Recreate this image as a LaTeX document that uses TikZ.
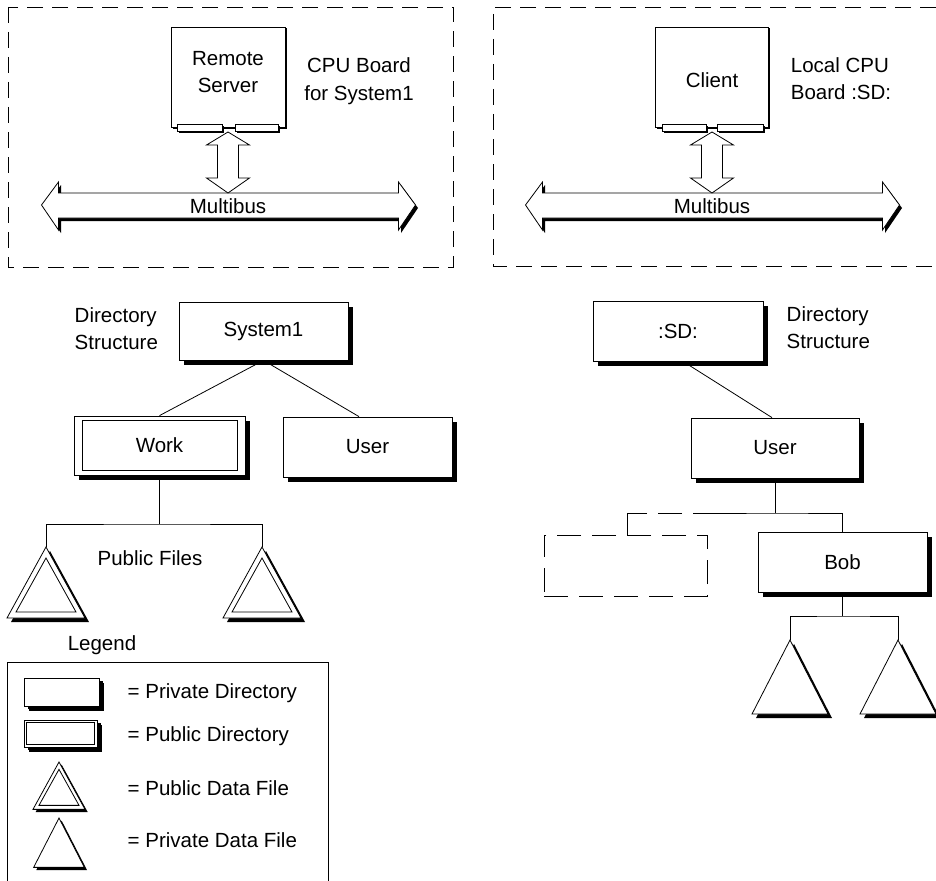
\documentclass[tikz,border=0pt]{standalone}
\usepackage{fontspec}
\setmainfont{Liberation Sans}
\usetikzlibrary{shadows,calc}
\begin{document}
\begin{tikzpicture}[x=1pt,y=-1pt,line width=0.8pt,
  every node/.style={font=\fontsize{20.5}{27.5}\selectfont},
  shad/.style={drop shadow={shadow xshift=4.5pt,shadow yshift=-4.5pt,opacity=1,fill=black}},
  dirbox/.style={draw,fill=white,inner sep=0pt,shad},
  panel/.style={dash pattern=on 16pt off 9pt},
  board/.style={draw,fill=white,inner sep=0pt,minimum height=100pt,
     drop shadow={shadow xshift=2pt,shadow yshift=-1.5pt,opacity=1,fill=black}},
  pad/.style={draw,fill=white,inner sep=0pt,minimum height=7pt,
     drop shadow={shadow xshift=1.5pt,shadow yshift=-1.5pt,opacity=1,fill=black}},
  bus/.pic={
    \path[draw,fill=white,drop shadow={shadow xshift=2.5pt,shadow yshift=-3pt,opacity=1,fill=black}]
      (-187,0) -- (-170,-23) -- (-170,-12) -- (170,-12) -- (170,-23) -- (187,0)
      -- (170,25) -- (170,13) -- (-170,13) -- (-170,25) -- cycle;
  },
  vbus/.pic={
    \draw[fill=white] (0,-30.5) -- (21.5,-17.5) -- (10.5,-17.5) -- (10.5,15.5) -- (21.5,15.5)
      -- (0,30.5) -- (-21.5,15.5) -- (-10.5,15.5) -- (-10.5,-17.5) -- (-21.5,-17.5) -- cycle;
  },
  pubfile/.pic={
    \fill[black] (4,4) -- (-35,75) -- (43,75) -- cycle;
    \draw[fill=white] (0,0) -- (-39,71) -- (39,71) -- cycle;
    \draw (0,11) -- (-30,65) -- (30,65) -- cycle;
  },
  privfile/.pic={
    \fill[black] (4,4) -- (-34,78) -- (42,78) -- cycle;
    \draw[fill=white] (0,0) -- (-38,74) -- (38,74) -- cycle;
  }
]
\useasboundingbox (0,0) rectangle (936,880);
\fill[white] (0,0) rectangle (936,880);
\clip (0,0) rectangle (936,880);

% ---------- top panels ----------
\draw[panel] (8,7) rectangle (453,267);
\draw[panel] (936,7) -- (493,7) -- (493,266) -- (936,266);

% left board
\pic at (228.5,205) {bus};
\node (mb1) at (228,206) {Multibus};
\node[board,minimum width=114pt] (rs) at (228,77) {};
\node[align=center] (rstxt) at (228,72) {Remote\\Server};
\node[pad,minimum width=45pt] (rsp1) at (199.5,127.5) {};
\node[pad,minimum width=43pt] (rsp2) at (256.5,127.5) {};
\draw[line width=2pt] (rsp1.east) -- (rsp2.west);
\pic at (228,162.5) {vbus};
\node[align=center] (cpu1) at (359,81) {CPU Board\\for System1};

% right board
\pic at (712.5,205) {bus};
\node (mb2) at (712,206) {Multibus};
\node[board,minimum width=113pt] (cl) at (711.5,77) {};
\node (cltxt) at (712,80) {Client};
\node[pad,minimum width=44pt] (clp1) at (684,127.5) {};
\node[pad,minimum width=46pt] (clp2) at (740,127.5) {};
\draw[line width=2pt] (clp1.east) -- (clp2.west);
\pic at (712,162.5) {vbus};
\node[align=left] (cpu2) at (841,78.5) {Local CPU\\Board :SD:};

% ---------- lower left tree ----------
\node[anchor=west,align=left] (ds1) at (71,328.5) {Directory\\Structure};
\node[dirbox,minimum width=169pt,minimum height=58pt] (sys) at (263.5,331) {System1};
\node[dirbox,minimum width=171pt,minimum height=59pt] (work) at (159.5,445.5) {Work};
\draw ([xshift=9pt,yshift=-5pt]work.north west) rectangle ([xshift=-8pt,yshift=5pt]work.south east);
\node[dirbox,minimum width=169pt,minimum height=60pt] (usr1) at (367.5,447) {User};
\draw (sys.south) -- (work.north);
\draw (sys.south) -- ([xshift=-8.5pt]usr1.north);
\coordinate (wj) at (159.5,524);
\coordinate (pf1) at (46,547);
\coordinate (pf2) at (262,547);
\draw (work.south) -- (wj);
\draw (pf1) |- (wj) -| (pf2);
\pic at (pf1) {pubfile};
\pic at (pf2) {pubfile};
\node (pubf) at (150,558) {Public Files};

% ---------- legend ----------
\node (leg) at (102,645) {Legend};
\draw (7,890) -- (7,662) -- (328,662) -- (328,890);
\node[dirbox,minimum width=75pt,minimum height=28pt,
  drop shadow={shadow xshift=4pt,shadow yshift=-3pt,opacity=1,fill=black}] (lpriv) at (61.5,692) {};
\node[anchor=west] (tpriv) at (124,693) {= Private Directory};
\node[dirbox,minimum width=73pt,minimum height=27pt,
  drop shadow={shadow xshift=4pt,shadow yshift=-3pt,opacity=1,fill=black}] (lpub) at (60.5,733.5) {};
\draw ([xshift=3pt,yshift=-3pt]lpub.north west) rectangle ([xshift=-3pt,yshift=3pt]lpub.south east);
\node[anchor=west] (tpub) at (124,736) {= Public Directory};
\pic[scale=0.667] at (59,762) {pubfile};
\node[anchor=west] (tpubf) at (124,788) {= Public Data File};
\pic[scale=0.667] at (59,818) {privfile};
\node[anchor=west] (tprivf) at (124,840) {= Private Data File};

% ---------- lower right tree ----------
\node[dirbox,minimum width=170pt,minimum height=60pt] (sd) at (678,331) {:SD:};
\node[anchor=west,align=left] (ds2) at (783,327.5) {Directory\\Structure};
\node[dirbox,minimum width=168pt,minimum height=60pt] (usr2) at (775,448) {User};
\draw ([xshift=5pt]sd.south) -- ([xshift=-3pt]usr2.north);
\node[draw,dash pattern=on 24pt off 11pt,inner sep=0pt,minimum width=163pt,minimum height=61pt] (ghost) at (625.5,565.5) {};
\node[dirbox,minimum width=169pt,minimum height=60pt] (bob) at (842.5,562) {Bob};
\coordinate (uj) at (775,513);
\coordinate (dj) at (717,513);
\coordinate (gj) at (627,513);
\draw (usr2.south) -- (uj);
\draw (dj) -- (uj) -| (bob.north);
\draw[dash pattern=on 24pt off 11pt] (dj) -- (gj);
\draw (gj) -- (gj |- ghost.north);
\coordinate (bj) at (842.5,616);
\coordinate (bf1) at (790,640);
\coordinate (bf2) at (898,640);
\draw (bob.south) -- (bj);
\draw (bf1) |- (bj) -| (bf2);
\pic at (bf1) {privfile};
\pic at (bf2) {privfile};
\end{tikzpicture}
\end{document}
